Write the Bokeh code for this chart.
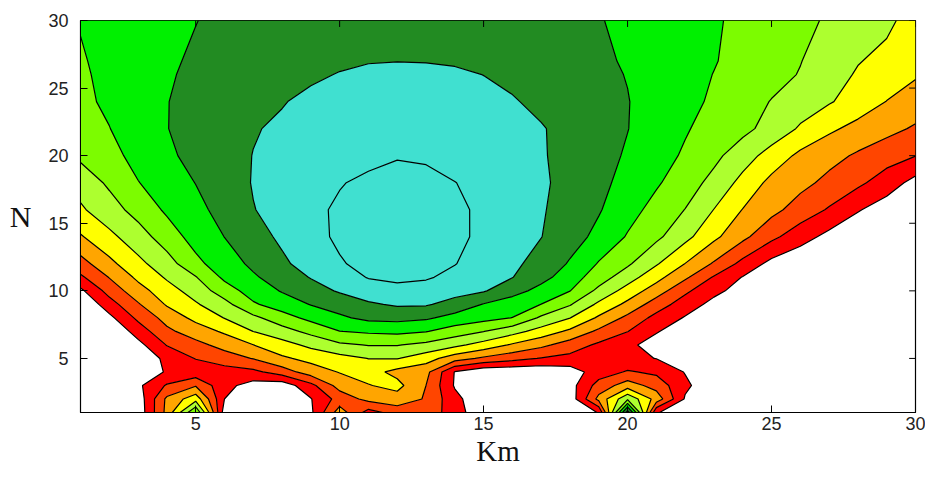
import numpy as np
from bokeh.plotting import figure
from bokeh.models import FixedTicker, Range1d
from bokeh.embed import file_html
from bokeh.resources import INLINE

# Grid nodes (Km along x, N along y)
km = list(range(1, 31))
n_rows = [1, 2, 3, 4, 5, 6, 7, 8, 9, 10, 11, 12, 14, 16, 18, 20, 22, 24, 26, 27, 30]

# Field values, one list per N row (x = 1..30)
row_n1 = [0, 0, 0.3, 3.3, 7.0, 0.5, 0, 0, 0.8, 3.5, 1.6, 2.4, 2.6, 1.5, 0.2, 0, 0, 0.3, 1.05, 9.5, 1.1, 0.2, 0, 0, 0, 0, 0, 0, 0, 0]
row_n2 = [0, 0, 0.4, 3.2, 4.6, 1.0, 0.2, 0.3, 0.95, 2.4, 3.3, 3.6, 2.9, 1.3, 0.2, 0.2, 0.2, 0.4, 3.3, 5.8, 3.6, 0.9, 0.1, 0, 0, 0, 0, 0, 0, 0]
row_n3 = [0, 0, 0.8, 2.1, 2.9, 1.3, 0.6, 0.4, 1.7, 3.4, 3.95, 4.3, 3.0, 0.9, 0.2, 0.2, 0.2, 0.6, 2.4, 3.5, 2.6, 1.2, 0.3, 0, 0, 0, 0, 0, 0, 0]
row_n4 = [0, 0, 0.3, 1.1, 1.35, 1.55, 1.75, 2.5, 3.5, 4.05, 4.4, 3.7, 3.3, 0.95, 0.2, 0.2, 0.2, 0.5, 1.5, 2.1, 1.8, 0.95, 0.2, 0, 0, 0, 0, 0, 0, 0]
row_n5 = [0, 0, 0.36, 1.21, 2.04, 2.53, 3.05, 3.84, 4.29, 4.64, 5.02, 5.05, 4.43, 3.46, 2.81, 2.35, 1.94, 1.7, 1.47, 1.23, 0.98, 0.3, 0, 0, 0, 0, 0, 0, 0, 0]
row_n6 = [0, 0, 0.69, 2.05, 2.7, 3.35, 3.99, 4.62, 5.24, 5.82, 6.05, 6.05, 5.75, 5.25, 4.62, 3.87, 3.25, 2.53, 1.82, 1.27, 0.5, 0, 0, 0, 0, 0, 0, 0, 0, 0]
row_n7 = [0, 0, 1.45, 2.78, 3.49, 4.15, 5.01, 5.6, 6.28, 6.98, 7.15, 7.25, 7.05, 6.52, 6.02, 5.37, 4.6, 3.79, 2.79, 2.02, 1.09, 0.3, 0, 0, 0, 0, 0, 0, 0, 0]
row_n8 = [0, 0.74, 2.22, 3.36, 4.27, 5.03, 5.76, 6.58, 7.28, 7.83, 8.25, 8.3, 8.15, 7.65, 7.33, 6.98, 5.83, 5.02, 3.84, 2.75, 1.69, 0.92, 0.3, 0, 0, 0, 0, 0, 0, 0]
row_n9 = [0, 1.57, 2.9, 4.1, 4.89, 5.68, 6.87, 7.49, 8.04, 8.45, 8.87, 9.12, 9.1, 8.64, 7.95, 7.48, 6.99, 6.09, 4.8, 3.75, 2.5, 1.52, 0.7, 0.2, 0, 0, 0, 0, 0, 0]
row_n10 = [0.79, 2.37, 3.59, 4.59, 5.42, 6.5, 7.46, 8.07, 8.6, 9.1, 9.5, 9.72, 9.6, 9.35, 9.08, 8.38, 7.67, 7.02, 5.75, 4.6, 3.5, 2.2, 1.26, 0.6, 0.1, 0, 0, 0, 0, 0]
row_n11 = [1.82, 3.04, 4.21, 5.12, 5.94, 7.2, 7.87, 8.47, 9.05, 9.55, 10.05, 10.2, 10.1, 9.74, 9.37, 9.02, 8.33, 7.47, 6.48, 5.45, 4.33, 3.18, 1.9, 0.95, 0.35, 0.05, 0, 0, 0, 0]
row_n12 = [2.6, 3.73, 4.74, 5.57, 6.74, 7.54, 8.19, 8.83, 9.39, 9.92, 10.25, 10.4, 10.3, 10.03, 9.6, 9.2, 8.64, 7.9, 6.92, 6.15, 5.1, 3.98, 2.88, 1.7, 0.7, 0.2, 0, 0, 0, 0]
row_n14 = [3.9, 4.76, 5.55, 6.5, 7.38, 8.01, 8.63, 9.17, 9.72, 10.15, 10.4, 10.68, 10.45, 10.15, 9.86, 9.42, 9.02, 8.41, 7.74, 6.92, 6.21, 5.29, 4.22, 3.25, 2.24, 1.43, 0.7, 0.2, 0, 0]
row_n16 = [4.86, 5.58, 6.37, 7.16, 7.73, 8.34, 8.97, 9.3, 9.77, 10.15, 10.4, 10.68, 10.45, 10.16, 9.85, 9.49, 9.11, 8.5, 8.08, 7.37, 6.67, 5.98, 4.98, 3.97, 3.29, 2.57, 1.9, 1.08, 0.5, 0.0]
row_n18 = [5.4, 6.17, 6.97, 7.49, 8.02, 8.53, 9.05, 9.33, 9.64, 9.94, 10.2, 10.4, 10.3, 10.02, 9.7, 9.42, 9.13, 8.73, 8.24, 7.7, 7.12, 6.47, 5.7, 4.7, 3.72, 3.28, 2.74, 2.21, 1.5, 0.67]
row_n20 = [6.2, 6.7, 7.3, 7.84, 8.26, 8.64, 9.02, 9.19, 9.37, 9.55, 9.73, 9.92, 9.85, 9.6, 9.42, 9.25, 9.07, 8.75, 8.33, 7.9, 7.4, 6.87, 6.25, 5.45, 4.6, 3.77, 3.32, 2.86, 2.43, 2.02]
row_n22 = [6.6, 6.98, 7.49, 7.98, 8.3, 8.62, 8.94, 9.14, 9.31, 9.48, 9.65, 9.82, 9.8, 9.65, 9.5, 9.3, 9.06, 8.73, 8.37, 8.02, 7.55, 7.09, 6.62, 6.27, 5.63, 4.88, 4.18, 3.7, 3.29, 2.88]
row_n24 = [6.8, 7.16, 7.57, 7.98, 8.23, 8.47, 8.71, 8.95, 9.2, 9.35, 9.5, 9.6, 9.55, 9.4, 9.25, 9.07, 8.8, 8.55, 8.3, 8.03, 7.65, 7.27, 6.86, 6.41, 5.96, 5.52, 5.09, 4.55, 3.98, 3.55]
row_n26 = [6.87, 7.22, 7.58, 7.93, 8.14, 8.32, 8.5, 8.68, 8.86, 9.04, 9.2, 9.28, 9.25, 9.15, 8.99, 8.8, 8.59, 8.39, 8.18, 7.97, 7.64, 7.31, 6.98, 6.64, 6.31, 5.95, 5.41, 4.9, 4.5, 4.1]
row_n27 = [6.92, 7.24, 7.56, 7.87, 8.12, 8.25, 8.4, 8.55, 8.7, 8.86, 8.95, 8.98, 8.96, 8.9, 8.8, 8.6, 8.44, 8.28, 8.12, 7.93, 7.64, 7.34, 7.05, 6.71, 6.37, 6.03, 5.55, 5.05, 4.75, 4.4]
row_n30 = [7.05, 7.3, 7.5, 7.75, 7.98, 8.2, 8.35, 8.5, 8.6, 8.7, 8.75, 8.78, 8.75, 8.7, 8.6, 8.5, 8.35, 8.2, 8.05, 7.8, 7.55, 7.3, 7.1, 6.8, 6.5, 6.2, 5.9, 5.55, 5.2, 4.6]

levels = [1, 2, 3, 4, 5, 6, 7, 8, 9, 10, 12]
band_colors = ["#FF0000", "#FF4500", "#FFA500", "#FFFF00", "#ADFF2F",
               "#7CFC00", "#00F000", "#228B22", "#40E0D0", "#40E0D0"]
tick_values = [5, 10, 15, 20, 25, 30]
x_min, x_max = 1, 30
y_min, y_max = 1, 30

z = np.array([row_n1, row_n2, row_n3, row_n4, row_n5, row_n6, row_n7, row_n8, row_n9,
              row_n10, row_n11, row_n12, row_n14, row_n16, row_n18, row_n20, row_n22,
              row_n24, row_n26, row_n27, row_n30], dtype=float)

p = figure(width=925, height=469, x_range=Range1d(x_min, x_max), y_range=Range1d(y_min, y_max),
           output_backend="svg", toolbar_location=None,
           min_border_left=80, min_border_right=10, min_border_top=20, min_border_bottom=57)
p.grid.visible = False
p.outline_line_color = "black"
p.outline_line_width = 1.2
p.background_fill_color = "white"

p.contour(km, n_rows, z, levels=levels, fill_color=band_colors,
          line_color="black", line_width=1.2)

# inward tick marks on the top and right edges of the box (MATLAB "box on")
tick_len_x = 0.22
tick_len_y = 0.48
n_t = len(tick_values)
p.segment(x0=tick_values, y0=[y_max] * n_t, x1=tick_values, y1=[y_max - tick_len_y] * n_t,
          line_color="black", line_width=1)
p.segment(x0=[x_max] * n_t, y0=tick_values, x1=[x_max - tick_len_x] * n_t, y1=tick_values,
          line_color="black", line_width=1)

for ax in (p.xaxis[0], p.yaxis[0]):
    ax.ticker = FixedTicker(ticks=tick_values)
    ax.major_tick_in = 7
    ax.major_tick_out = 0
    ax.minor_tick_line_color = None
    ax.axis_line_color = "black"
    ax.major_tick_line_color = "black"
    ax.major_label_text_font = "Liberation Sans"
    ax.major_label_text_font_size = "18px"
    ax.major_label_text_color = "#222222"
    ax.axis_label_text_font = "Liberation Serif"
    ax.axis_label_text_font_style = "normal"
    ax.axis_label_text_color = "#111111"

p.xaxis.axis_label = "Km"
p.xaxis.axis_label_text_font_size = "29px"
p.xaxis.major_label_standoff = 4
p.xaxis.axis_label_standoff = 2
p.yaxis.axis_label = "N"
p.yaxis.axis_label_text_font_size = "30px"
p.yaxis.axis_label_orientation = "horizontal"
p.yaxis.major_label_standoff = 12
p.yaxis.axis_label_standoff = 14

open("out.html", "w").write(file_html(p, INLINE))
